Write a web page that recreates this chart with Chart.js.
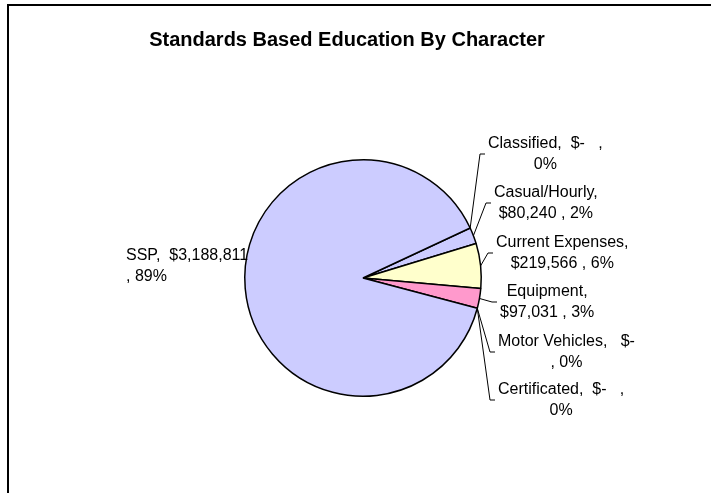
<!DOCTYPE html>
<html>
<head>
<meta charset="utf-8">
<script src="https://cdn.jsdelivr.net/npm/chart.js@4/dist/chart.umd.min.js"></script>
<style>
  body { margin: 0; background: #fff; }
  #wrap { width: 711px; height: 493px; position: relative; }
</style>
</head>
<body>
<div id="wrap"><canvas id="myChart" width="711" height="493"></canvas></div>
<script>
// slices in clockwise order starting just above 3 o'clock
const categories = ["Casual/Hourly", "Current Expenses", "Equipment", "Motor Vehicles", "Certificated", "SSP", "Classified"];
const amounts = [80240, 219566, 97031, 0, 0, 3188811, 0];
const sliceColors = ["#CCCCFF", "#FFFFCC", "#FF99CC", "#993366", "#CCFFFF", "#CCCCFF", "#660066"];
const chartTitle = "Standards Based Education By Character";

// where each label sits, relative to the pie centre (elbow of the leader line)
// brk: how the excel label wraps, sep: gap before the money part
const labelLayout = {
  "Casual/Hourly":    { dx: 128, dy: -75,  brk: "name" },
  "Current Expenses": { dx: 130, dy: -25,  brk: "name" },
  "Equipment":        { dx: 134, dy: 24,   brk: "name" },
  "Motor Vehicles":   { dx: 132, dy: 74,   brk: "money", sep: ",   " },
  "Certificated":     { dx: 132, dy: 122,  brk: "comma" },
  "Classified":       { dx: 122, dy: -124, brk: "comma" },
  "SSP":              { dx: -237, dy: -12, brk: "money", sep: ",  ", left: true }
};

const total = amounts.reduce((a, b) => a + b, 0);
const FONT = "'Liberation Sans', Arial, sans-serif";

function labelLines(name, v) {
  const pct = Math.round(v / total * 100) + "%";
  const money = v ? "$" + v.toLocaleString("en-US") + " " : "$-   ";
  const lay = labelLayout[name];
  if (lay.brk === "name") return [name + ",", money + ", " + pct];
  if (lay.brk === "comma") return [name + ",  " + money + ",", pct];
  return [name + lay.sep + money.trim(), ", " + pct];
}

const pieLabels = {
  id: "pieLabels",
  beforeDraw(chart) {
    const c = chart.ctx;
    c.save();
    c.fillStyle = "#fff";
    c.fillRect(0, 0, chart.width, chart.height);
    c.fillStyle = "#000";
    c.fillRect(7, 4, chart.width - 7, 2);
    c.fillRect(7, 4, 2, chart.height - 4);
    c.font = "bold 20px " + FONT;
    c.textAlign = "center";
    c.textBaseline = "middle";
    c.fillText(chartTitle, 347, 40);
    c.restore();
  },
  afterDatasetsDraw(chart) {
    const c = chart.ctx;
    const meta = chart.getDatasetMeta(0);
    c.save();
    c.font = "16px " + FONT;
    c.textBaseline = "middle";
    c.fillStyle = "#000";
    c.strokeStyle = "#000";
    c.lineWidth = 1;
    const lh = 21;
    meta.data.forEach((arc, i) => {
      const name = categories[i];
      const lay = labelLayout[name];
      const p = arc.getProps(["x", "y", "startAngle", "endAngle", "outerRadius"], true);
      const mid = (p.startAngle + p.endAngle) / 2;
      const lines = labelLines(name, amounts[i]);
      const maxW = Math.max(...lines.map(l => c.measureText(l).width));
      const ex = p.x + lay.dx, ey = p.y + lay.dy;
      if (lay.left) {
        c.textAlign = "left";
        lines.forEach((l, k) => c.fillText(l, ex, ey + (k - 0.5) * lh));
        return;
      }
      const ax = p.x + Math.cos(mid) * p.outerRadius;
      const ay = p.y + Math.sin(mid) * p.outerRadius;
      c.beginPath();
      c.moveTo(ax, ay);
      c.lineTo(ex - 5, ey);
      c.lineTo(ex, ey);
      c.stroke();
      c.textAlign = "center";
      const tx = ex + 3 + maxW / 2;
      lines.forEach((l, k) => c.fillText(l, tx, ey + (k - 0.5) * lh));
    });
    c.restore();
  }
};

const ctx = document.getElementById("myChart");

new Chart(ctx, {
  type: "pie",
  data: {
    labels: categories,
    datasets: [{
      data: amounts,
      backgroundColor: sliceColors,
      borderColor: "#000",
      borderWidth: 1.5
    }]
  },
  options: {
    responsive: false,
    animation: false,
    rotation: 65,
    layout: { padding: { left: 244, right: 229, top: 159, bottom: 96 } },
    plugins: {
      legend: { display: false },
      tooltip: { enabled: false },
      title: { display: false }
    }
  },
  plugins: [pieLabels]
});
</script>
</body>
</html>
